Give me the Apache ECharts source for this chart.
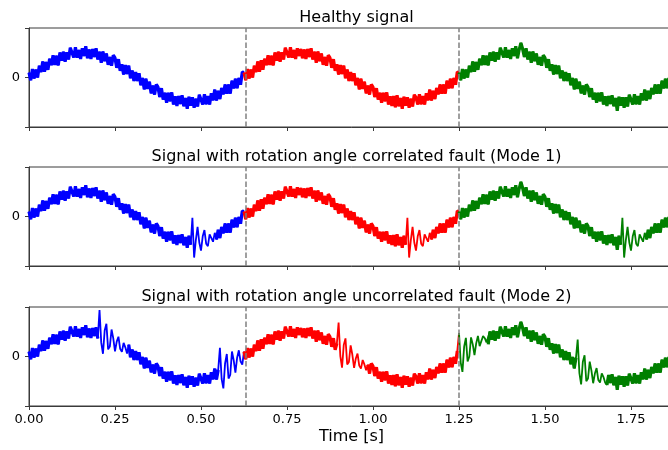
<!DOCTYPE html>
<html>
<head>
<meta charset="utf-8">
<script src="https://cdn.jsdelivr.net/npm/echarts@6/dist/echarts.min.js"></script>
<style>
html, body { margin: 0; padding: 0; background: #fff; overflow: hidden; }
#chart { width: 674px; height: 450px; }
</style>
</head>
<body>
<div id="chart"></div>
<script>
// panel titles
const titles = [
  'Healthy signal',
  'Signal with rotation angle correlated fault (Mode 1)',
  'Signal with rotation angle uncorrelated fault (Mode 2)'
];
const sampleStep = 0.005;          // seconds between samples
const segmentTimes = [0.625, 1.25]; // colour changes / dashed lines
const segmentColors = ['#0000ff', '#ff0000', '#008000'];

// healthy noisy signal (one value per sample)
const healthy = [
  .20,-.11,.34,-.04,.32,.00,.48,.22,.65,.23,
  .63,.31,.76,.50,.90,.51,.88,.49,1.01,.68,
  1.04,.64,1.02,.73,1.20,1.15,.81,1.22,.80,1.11,
  .75,1.18,.87,1.26,.78,1.13,.75,1.15,.83,1.18,
  .73,1.04,.60,1.05,.66,.97,.51,.83,.48,.90,
  .79,.39,.74,.27,.53,.12,.50,.14,.48,-.03,
  .28,-.14,.22,-.14,.17,-.31,-.02,-.48,-.05,-.46,
  -.17,-.64,-.33,-.69,-.28,-.39,-.79,-.43,-.89,-.62,
  -1.02,-.62,-.96,-.60,-1.09,-.76,-1.15,-.75,-1.07,-.72,
  -1.16,-.83,-1.26,-.78,-1.14,-.80,-1.22,-.86,-1.17,-.70,
  -.75,-1.09,-.68,-1.08,-.75,-1.09,-.64,-.92,-.49,-.93,
  -.54,-.87,-.42,-.68,-.28,-.66,-.28,-.65,-.13,-.44,
  -.05,-.43,-.02,-.29,.22,
  .20,-.11,.34,-.04,.32,.00,.48,.22,.65,.23,
  .70,.31,.76,.50,.90,.51,.88,.49,1.01,.68,
  1.04,.64,1.02,.73,1.20,1.15,.81,1.22,.80,1.11,
  .75,1.18,.87,1.15,.78,1.13,.75,1.15,.83,1.18,
  .73,1.04,.60,1.05,.66,.97,.51,.83,.48,.90,
  .79,.39,.74,.27,.53,.12,.50,.14,.48,-.03,
  .32,-.14,.22,-.14,.17,-.31,-.02,-.48,-.05,-.46,
  -.17,-.64,-.33,-.69,-.28,-.39,-.79,-.43,-.89,-.62,
  -1.02,-.62,-.96,-.60,-1.09,-.76,-1.15,-.75,-1.20,-.72,
  -1.16,-.83,-1.26,-.78,-1.14,-.80,-1.22,-.86,-1.17,-.70,
  -.80,-1.09,-.68,-1.08,-.75,-1.09,-.64,-.92,-.49,-.93,
  -.54,-.87,-.42,-.68,-.28,-.66,-.28,-.65,-.13,-.44,
  -.05,-.43,-.02,-.29,.22,
  .20,-.11,.34,-.04,.32,.00,.48,.22,.65,.23,
  .63,.31,.76,.50,.90,.51,.88,.49,1.01,.68,
  1.04,.64,1.02,.73,1.20,1.15,.81,1.22,.80,1.11,
  .75,1.18,.87,1.26,.78,1.13,1.40,1.15,.83,1.18,
  .73,1.04,.60,1.05,.66,.97,.51,.83,.48,.90,
  .79,.39,.74,.27,.53,.12,.50,.14,.48,-.03,
  .28,-.14,.22,-.14,.17,-.31,-.02,-.48,-.05,-.46,
  -.17,-.64,-.33,-.69,-.28,-.39,-.79,-.43,-.89,-.62,
  -1.02,-.62,-.96,-.60,-1.09,-.76,-1.15,-.75,-1.07,-.72,
  -1.16,-.83,-1.35,-.78,-1.14,-.80,-1.22,-.80,-1.17,-.70,
  -.75,-1.09,-.68,-1.08,-.75,-1.09,-.64,-.92,-.49,-.93,
  -.54,-.87,-.42,-.68,-.28,-.66,-.28,-.65,-.13,-.44,
  -.05,-.43,-.02,-.29,.22
];

// mode 1: same burst once per revolution (sample index where it starts)
const mode1Starts = [95, 220, 345];
const mode1Burst = [-.05,-1.66,-.95,-.42,-1.05,-1.38,-.80,-.55,-1.10,-1.20,-.72,-.78,-1.02,-.66];

// mode 2: bursts not tied to the revolution
const mode2Bursts = [
  { start: 41,  values: [1.88,.56,.11,1.05,1.32,.29,.40,1.09,.73,.21,.60,.80,.31,.19,.55,.37,.12] },
  { start: 111, values: [.35,-.91,-1.29,-.28,.10,-.89,-.74,.20,-.15,-.65,-.05,.25,-.20,-.33] },
  { start: 180, values: [1.37,.02,-.45,.47,.73,-.32,-.22,.45,.07,-.46,-.08,.12,-.37,-.49,-.14,-.32,-.56] },
  { start: 250, values: [.95,-.25,-.62,.40,.75,-.20,.0,.77,.49,.06,.53,.83,.42,.39,.83,.74,.57] },
  { start: 319, values: [.68,-.67,-1.13,-.21,.05,-1.00,-.89,-.21,-.57,-1.08,-.69,-.47,-.95,-1.05,-.68,-.83,-1.06] }
];

function withBursts(base, bursts) {
  const v = base.slice();
  const inBurst = new Set();
  bursts.forEach(b => b.values.forEach((y, j) => { v[b.start + j] = y; inBurst.add(b.start + j); }));
  return { values: v, inBurst: inBurst };
}

const signals = [
  withBursts(healthy, []),
  withBursts(healthy, mode1Starts.map(s => ({ start: s, values: mode1Burst }))),
  withBursts(healthy, mode2Bursts)
];

// [t, y] pairs of one coloured piece; burst samples left out when bandOnly
function segment(sig, t0, t1, bandOnly) {
  const out = [];
  sig.values.forEach((y, k) => {
    const t = +(k * sampleStep).toFixed(3);
    if (t >= t0 - 1e-9 && t <= t1 + 1e-9) {
      out.push([t, bandOnly && sig.inBurst.has(k) ? '-' : y]);
    }
  });
  return out;
}

const font = 'DejaVu Sans';
const axisColor = '#3a3a3a';
const tops = [28, 167, 307];
const titleTops = [5, 144, 284];
const bounds = [0].concat(segmentTimes, [1.875]);

const chart = echarts.init(document.getElementById('chart'), null, { renderer: 'canvas' });

const option = {
  animation: false,
  textStyle: { fontFamily: font },
  title: titles.map((t, i) => ({
    text: t, left: 351.5, top: titleTops[i], textAlign: 'center',
    textStyle: { fontSize: 16, fontWeight: 'normal', color: '#000', fontFamily: font }
  })),
  grid: tops.map(top => ({
    left: 29, right: 0, top: top, height: 99,
    show: true, borderColor: axisColor, borderWidth: 1, backgroundColor: 'transparent'
  })),
  xAxis: tops.map((_, i) => ({
    type: 'value', gridIndex: i, min: 0, max: 1.875, interval: 0.25,
    axisLine: { show: true, onZero: false, lineStyle: { color: axisColor, width: 1 } },
    axisTick: { show: true, inside: false, length: 4, lineStyle: { color: axisColor } },
    splitLine: { show: false },
    axisLabel: {
      show: i === 2, margin: 7, fontSize: 13, color: '#000', fontFamily: font,
      showMaxLabel: false, formatter: v => v.toFixed(2)
    },
    name: i === 2 ? 'Time [s]' : '',
    nameLocation: 'middle', nameGap: 23,
    nameTextStyle: { fontSize: 16, color: '#000', fontFamily: font }
  })),
  yAxis: tops.map((_, i) => ({
    type: 'value', gridIndex: i, min: -2, max: 2, interval: 2,
    axisLine: { show: true, onZero: false, lineStyle: { color: axisColor, width: 1 } },
    axisTick: { show: true, inside: false, length: 4, lineStyle: { color: axisColor } },
    splitLine: { show: false },
    axisLabel: {
      margin: 9, fontSize: 13, color: '#000', fontFamily: font,
      formatter: v => (v === 0 ? '0' : '')
    }
  })),
  series: []
};

signals.forEach((sig, g) => {
  segmentColors.forEach((c, s) => {
    // thick pass gives the dense noise band, thin pass carries the fault bursts
    option.series.push({
      type: 'line', xAxisIndex: g, yAxisIndex: g,
      data: segment(sig, bounds[s], bounds[s + 1], true),
      showSymbol: false, symbol: 'none', connectNulls: false,
      lineStyle: { color: c, width: 3.2 },
      itemStyle: { color: c },
      z: 2
    });
    const thin = {
      type: 'line', xAxisIndex: g, yAxisIndex: g,
      data: segment(sig, bounds[s], bounds[s + 1], false),
      showSymbol: false, symbol: 'none',
      lineStyle: { color: c, width: 1.8 },
      itemStyle: { color: c },
      z: 2
    };
    if (s === 0) {
      thin.markLine = {
        silent: true, symbol: ['none', 'none'], label: { show: false },
        lineStyle: { color: '#808080', type: [5.5, 2.4], width: 1.5 },
        data: segmentTimes.map(t => ({ xAxis: t })),
        z: 5
      };
    }
    option.series.push(thin);
  });
});

chart.setOption(option);
</script>
</body>
</html>
